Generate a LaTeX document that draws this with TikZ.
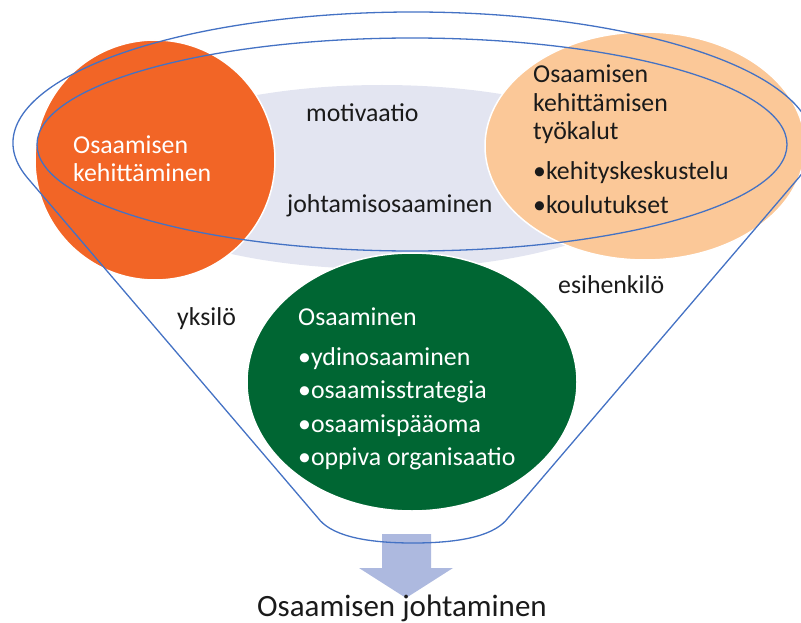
\documentclass[tikz,border=0pt]{standalone}
\usepackage{fontspec}
\setmainfont{Carlito}
\definecolor{ink}{HTML}{1A1A1A}
\definecolor{rim}{HTML}{4472C4}
\definecolor{haze}{HTML}{E3E5F1}
\definecolor{devorange}{HTML}{F26526}
\definecolor{toolpeach}{HTML}{FBC898}
\definecolor{coregreen}{HTML}{006633}
\definecolor{flowblue}{HTML}{ADB9DF}
\begin{document}
\begin{tikzpicture}[x=1pt,y=-1pt,
  txt/.style={inner sep=0pt, anchor=base west, text=ink,
              font=\fontsize{25.8}{30}\selectfont},
  wtxt/.style={txt, text=white},
  blob/.style={draw=white, line width=1.5pt},
  rimline/.style={draw=rim, line width=1.3pt, line join=round}]
\useasboundingbox (0,0) rectangle (801,623);
\clip (0,0) rectangle (801,623);

% background band behind the two side circles
\fill[haze] (382,177) ellipse [x radius=275, y radius=92];

% the three topic shapes
\path[blob, fill=devorange] (155,160) circle [radius=120];
\path[blob, fill=toolpeach] (645,146) ellipse [x radius=160, y radius=114];
\path[blob, fill=coregreen] (412,382) ellipse [x radius=165, y radius=129];

% outflow arrow under the funnel
\fill[flowblue] (382,534) -- (431,534) -- (431,568) -- (453,568)
  -- (406,598) -- (359,568) -- (382,568) -- cycle;

% funnel: inner rim and outer body
\draw[rimline] (412,144.5) ellipse [x radius=375, y radius=106.5];
\draw[rimline] (27.4,177.8)
  arc [start angle=164.6, end angle=375.4, x radius=400, y radius=131]
  -- (508,518) .. controls (496,534) and (466,543) .. (413,543)
  .. controls (360,543) and (330,534) .. (318,518) -- cycle;

% labels
\node[wtxt] (dev1) at (73,154) {Osaamisen};
\node[wtxt] (dev2) at (73,182) {kehittäminen};

\node[txt] (motiv) at (306,122) {motivaatio};
\node[txt] (lead)  at (287,212) {johtamisosaaminen};

\node[txt] (tool1) at (533,83)  {Osaamisen};
\node[txt] (tool2) at (533,112) {kehittämisen};
\node[txt] (tool3) at (533,140) {työkalut};
\node[txt] (tool4) at (533,180) {•kehityskeskustelu};
\node[txt] (tool5) at (533,213) {•koulutukset};

\node[txt] (boss) at (558,293) {esihenkilö};
\node[txt] (self) at (177,325) {yksilö};

\node[wtxt] (core0) at (298,325) {Osaaminen};
\node[wtxt] (core1) at (298,365) {•ydinosaaminen};
\node[wtxt] (core2) at (298,398) {•osaamisstrategia};
\node[wtxt] (core3) at (298,432) {•osaamispääoma};
\node[wtxt] (core4) at (298,465) {•oppiva organisaatio};

\node[txt, anchor=base, font=\fontsize{31}{36}\selectfont] (title) at (402,616)
  {Osaamisen johtaminen};
\end{tikzpicture}
\end{document}
